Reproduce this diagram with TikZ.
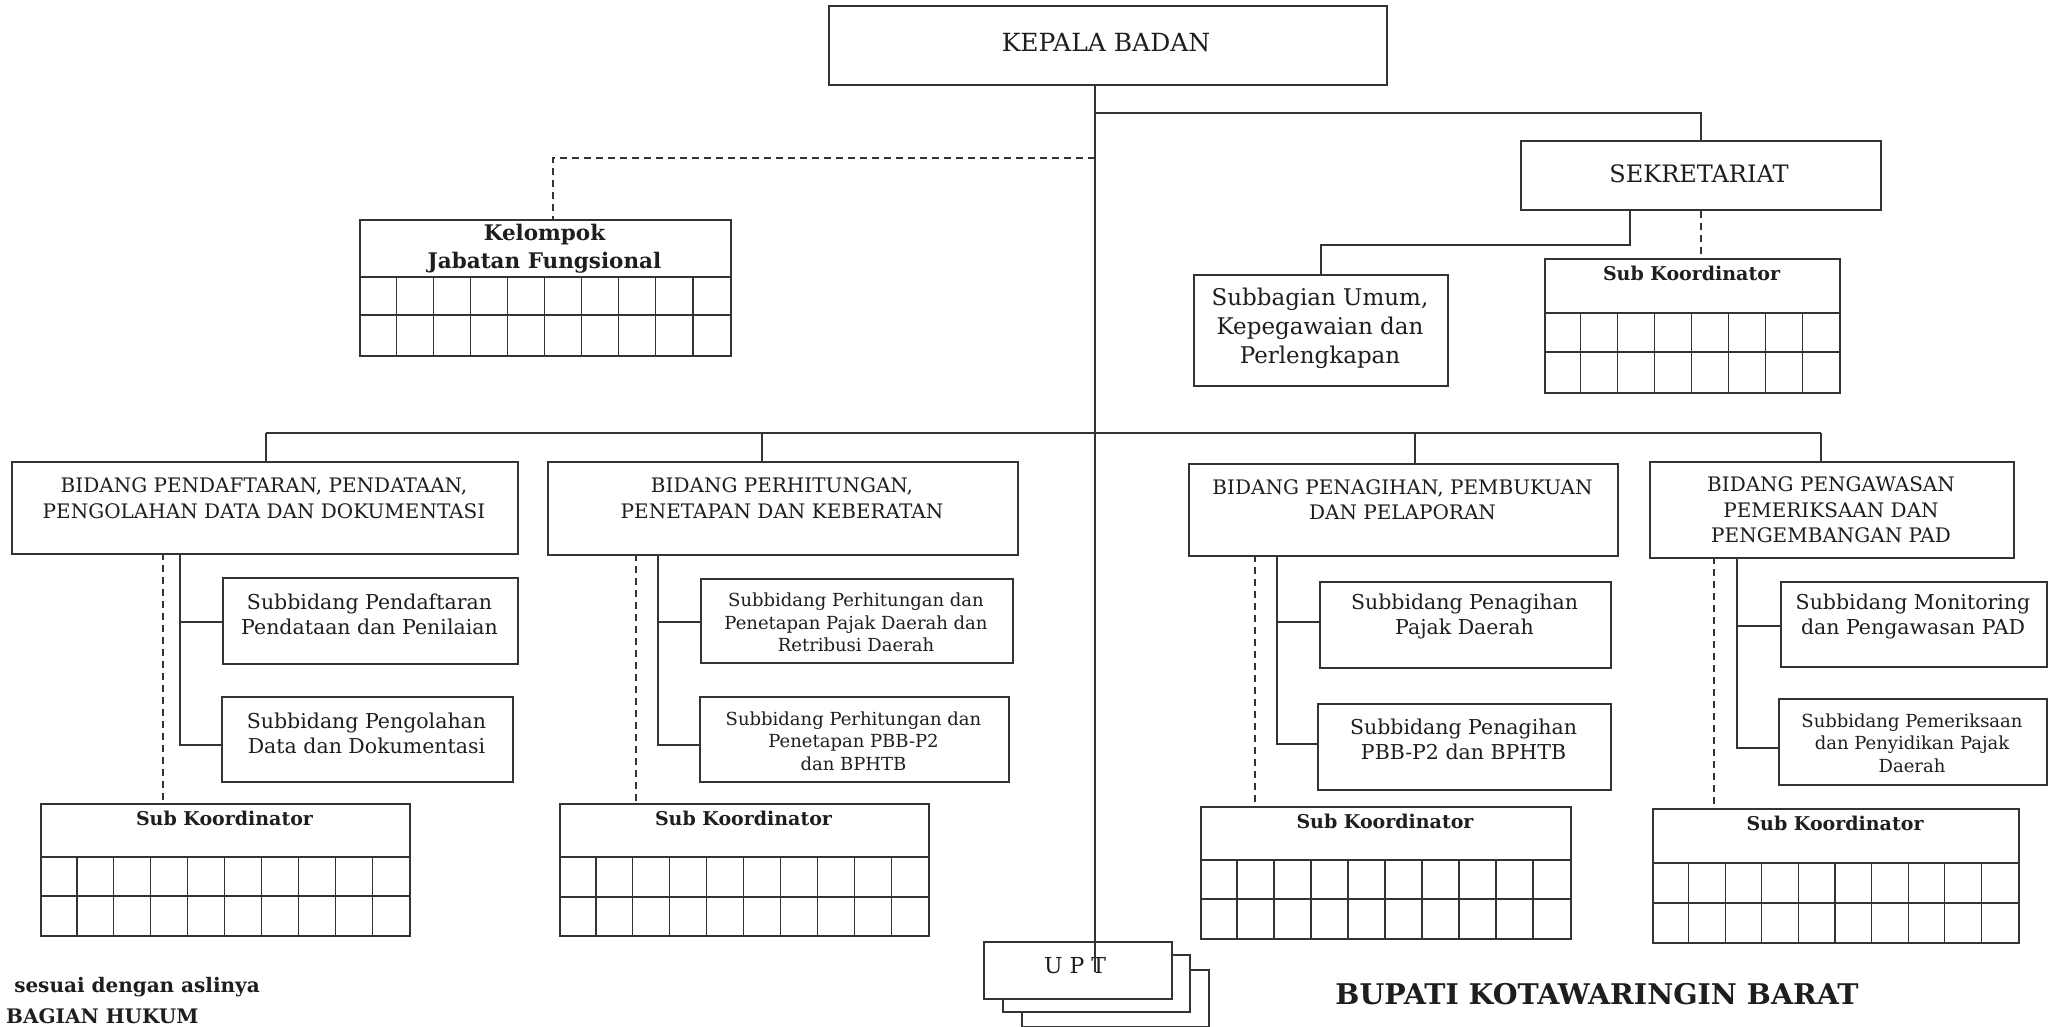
\documentclass[tikz,border=0pt]{standalone}
\usepackage{fontspec}
\setmainfont{DejaVu Serif}
\definecolor{lc}{HTML}{333333}
\definecolor{tc}{HTML}{1E1E1E}
\newcommand\setfs[2]{\fontsize{#1}{#2}\selectfont}
% box: name, x1, y1, x2, y2
\newcommand\obx[5]{\node[obox, minimum width={(#4-#2)*1pt}, minimum height={(#5-#3)*1pt}] (#1) at (#2,#3) {};}
% table: name, x1, y1, x2, y2, ydiv, yrow, ncols
\newcommand\gtab[8]{%
  \obx{#1}{#2}{#3}{#4}{#5}
  \draw[gline] (#2,#6) -- (#4,#6) (#2,#7) -- (#4,#7);
  \pgfmathtruncatemacro\nm{#8-1}
  \foreach \i in {1,...,\nm}{\pgfmathsetmacro\xx{#2+\i*(#4-#2)/#8}\draw[gline] (\xx,#6) -- (\xx,#5);}
}
\begin{document}
\begin{tikzpicture}[x=1pt,y=-1pt,
  obox/.style={draw=lc, line width=2pt, fill=white, inner sep=0pt, anchor=north west},
  conn/.style={draw=lc, line width=1.7pt},
  dconn/.style={draw=lc, line width=1.5pt, dash pattern=on 7pt off 5pt},
  gline/.style={draw=lc, line width=1.2pt},
  lbl/.style={text=tc, align=center, inner sep=0pt},
  bid/.style={font=\setfs{20}{25.5}},
  sbn/.style={font=\setfs{20.5}{25}},
  sbs/.style={font=\setfs{18}{22.5}},
  skl/.style={font=\bfseries\setfs{19}{22}},
]
\useasboundingbox[fill=white] (0,0) rectangle (2054,1027);

% ---- top level ----
\obx{kepala}{828}{5}{1386}{84}
\node[lbl, font=\setfs{25}{30}] (kepala-t) at (1106,43) {KEPALA BADAN};

\obx{sekr}{1520}{140}{1880}{209}
\node[lbl, font=\setfs{24}{30}] (sekr-t) at (1699,174) {SEKRETARIAT};

\coordinate (trunk) at (1095,0);
\coordinate (sj) at (1095,113);
\coordinate (kj) at (1095,158);
\coordinate (kjx) at (553,219);
\draw[conn] (sj) -| (sekr.north);
\draw[dconn] (kj) -| (kjx);

% Kelompok Jabatan Fungsional
\gtab{kjf}{359}{219}{730}{355}{277}{315}{10}
\node[lbl, font=\bfseries\setfs{21.5}{28}] (kjf-t) at (544.5,249) {Kelompok\\Jabatan Fungsional};

% Sekretariat children
\obx{sub}{1193}{274}{1447}{385}
\node[lbl, font=\setfs{23}{29}] (sub-t) at (1320,328) {Subbagian Umum,\\Kepegawaian dan\\Perlengkapan};
\coordinate (sekb) at (1630,209);
\coordinate (sekm) at (1630,245);
\draw[conn] (sekb) -- (sekm) -| (sub.north);
\gtab{sks}{1544}{258}{1839}{392}{313}{352}{8}
\node[lbl, skl] (sks-t) at (1691.5,273.5) {Sub Koordinator};
\draw[dconn] (sekr.south) -- (sekr.south |- sks.north);

% ---- bidang bar ----
\coordinate (c1) at (266,433);
\coordinate (c2) at (762,433);
\coordinate (c3) at (1415,433);
\coordinate (c4) at (1821,433);
\draw[conn] (c1) -- (c4);

\obx{b1}{11}{461}{517}{553}
\node[lbl, bid] (b1-t) at (264,498) {BIDANG PENDAFTARAN, PENDATAAN,\\PENGOLAHAN DATA DAN DOKUMENTASI};
\obx{b2}{547}{461}{1017}{554}
\node[lbl, bid] (b2-t) at (782,498) {BIDANG PERHITUNGAN,\\PENETAPAN DAN KEBERATAN};
\obx{b3}{1188}{463}{1617}{555}
\node[lbl, bid] (b3-t) at (1402.5,499.5) {BIDANG PENAGIHAN, PEMBUKUAN\\DAN PELAPORAN};
\obx{b4}{1649}{461}{2013}{557}
\node[lbl, bid] (b4-t) at (1831,510) {BIDANG PENGAWASAN\\PEMERIKSAAN DAN\\PENGEMBANGAN PAD};

\draw[conn] (c1) -- (c1 |- b1.north);
\draw[conn] (c2) -- (c2 |- b2.north);
\draw[conn] (c3) -- (c3 |- b3.north);
\draw[conn] (c4) -- (c4 |- b4.north);

% ---- column 1 ----
\obx{sb1a}{222}{577}{517}{663}
\node[lbl, sbn] (sb1a-t) at (369.5,614.5) {Subbidang Pendaftaran\\Pendataan dan Penilaian};
\obx{sb1b}{221}{696}{512}{781}
\node[lbl, sbn] (sb1b-t) at (366.5,733.5) {Subbidang Pengolahan\\Data dan Dokumentasi};
\gtab{sk1}{40}{803}{409}{935}{857}{896}{10}
\node[lbl, skl] (sk1-t) at (224.5,818.5) {Sub Koordinator};
\coordinate (d1) at (163,553);
\coordinate (s1) at (180,553);
\coordinate (s1a) at (180,622);
\coordinate (s1b) at (180,745);
\draw[dconn] (d1) -- (d1 |- sk1.north);
\draw[conn] (s1) -- (s1b) -- (s1b -| sb1b.west);
\draw[conn] (s1a) -- (s1a -| sb1a.west);

% ---- column 2 ----
\obx{sb2a}{700}{578}{1012}{662}
\node[lbl, sbs] (sb2a-t) at (856,622.5) {Subbidang Perhitungan dan\\Penetapan Pajak Daerah dan\\Retribusi Daerah};
\obx{sb2b}{699}{696}{1008}{781}
\node[lbl, sbs] (sb2b-t) at (853.5,741) {Subbidang Perhitungan dan\\Penetapan PBB-P2\\dan BPHTB};
\gtab{sk2}{559}{803}{928}{935}{857}{897}{10}
\node[lbl, skl] (sk2-t) at (743.5,818.5) {Sub Koordinator};
\coordinate (d2) at (636,554);
\coordinate (s2) at (658,554);
\coordinate (s2a) at (658,622);
\coordinate (s2b) at (658,745);
\draw[dconn] (d2) -- (d2 |- sk2.north);
\draw[conn] (s2) -- (s2b) -- (s2b -| sb2b.west);
\draw[conn] (s2a) -- (s2a -| sb2a.west);

% ---- column 3 ----
\obx{sb3a}{1319}{581}{1610}{667}
\node[lbl, sbn] (sb3a-t) at (1464.5,616.5) {Subbidang Penagihan\\Pajak Daerah};
\obx{sb3b}{1317}{703}{1610}{789}
\node[lbl, sbn] (sb3b-t) at (1463.5,739.5) {Subbidang Penagihan\\PBB-P2 dan BPHTB};
\gtab{sk3}{1200}{806}{1570}{938}{860}{899}{10}
\node[lbl, skl] (sk3-t) at (1385,821.5) {Sub Koordinator};
\coordinate (d3) at (1255,555);
\coordinate (s3) at (1277,555);
\coordinate (s3a) at (1277,622);
\coordinate (s3b) at (1277,744);
\draw[dconn] (d3) -- (d3 |- sk3.north);
\draw[conn] (s3) -- (s3b) -- (s3b -| sb3b.west);
\draw[conn] (s3a) -- (s3a -| sb3a.west);

% ---- column 4 ----
\obx{sb4a}{1780}{581}{2046}{666}
\node[lbl, sbn] (sb4a-t) at (1913,616.5) {Subbidang Monitoring\\dan Pengawasan PAD};
\obx{sb4b}{1778}{698}{2046}{784}
\node[lbl, sbs] (sb4b-t) at (1912,743) {Subbidang Pemeriksaan\\dan Penyidikan Pajak\\Daerah};
\gtab{sk4}{1652}{808}{2018}{942}{863}{903}{10}
\node[lbl, skl] (sk4-t) at (1835,823.5) {Sub Koordinator};
\coordinate (d4) at (1714,557);
\coordinate (s4) at (1737,557);
\coordinate (s4a) at (1737,626);
\coordinate (s4b) at (1737,748);
\draw[dconn] (d4) -- (d4 |- sk4.north);
\draw[conn] (s4) -- (s4b) -- (s4b -| sb4b.west);
\draw[conn] (s4a) -- (s4a -| sb4a.west);

% ---- UPT ----
\obx{upt3}{1021}{969}{1208}{1026}
\obx{upt2}{1002}{954}{1189}{1011}
\obx{upt1}{983}{941}{1171}{998}
\node[lbl, font=\setfs{22}{26}] (upt-t) at (1075,966) {U P T};
\coordinate (uptT) at (1095,972);
\draw[conn] (kepala.south -| trunk) -- (uptT);

% ---- footer texts ----
\node[lbl, font=\bfseries\setfs{28.5}{32}] (bupati) at (1597,994) {BUPATI KOTAWARINGIN BARAT};
\node[lbl, font=\bfseries\setfs{20}{24}, anchor=east] (sesuai) at (260,987) {sesuai dengan aslinya};
\node[lbl, font=\bfseries\setfs{20}{24}, anchor=west] (hukum) at (6,1016) {BAGIAN HUKUM};
\end{tikzpicture}
\end{document}
